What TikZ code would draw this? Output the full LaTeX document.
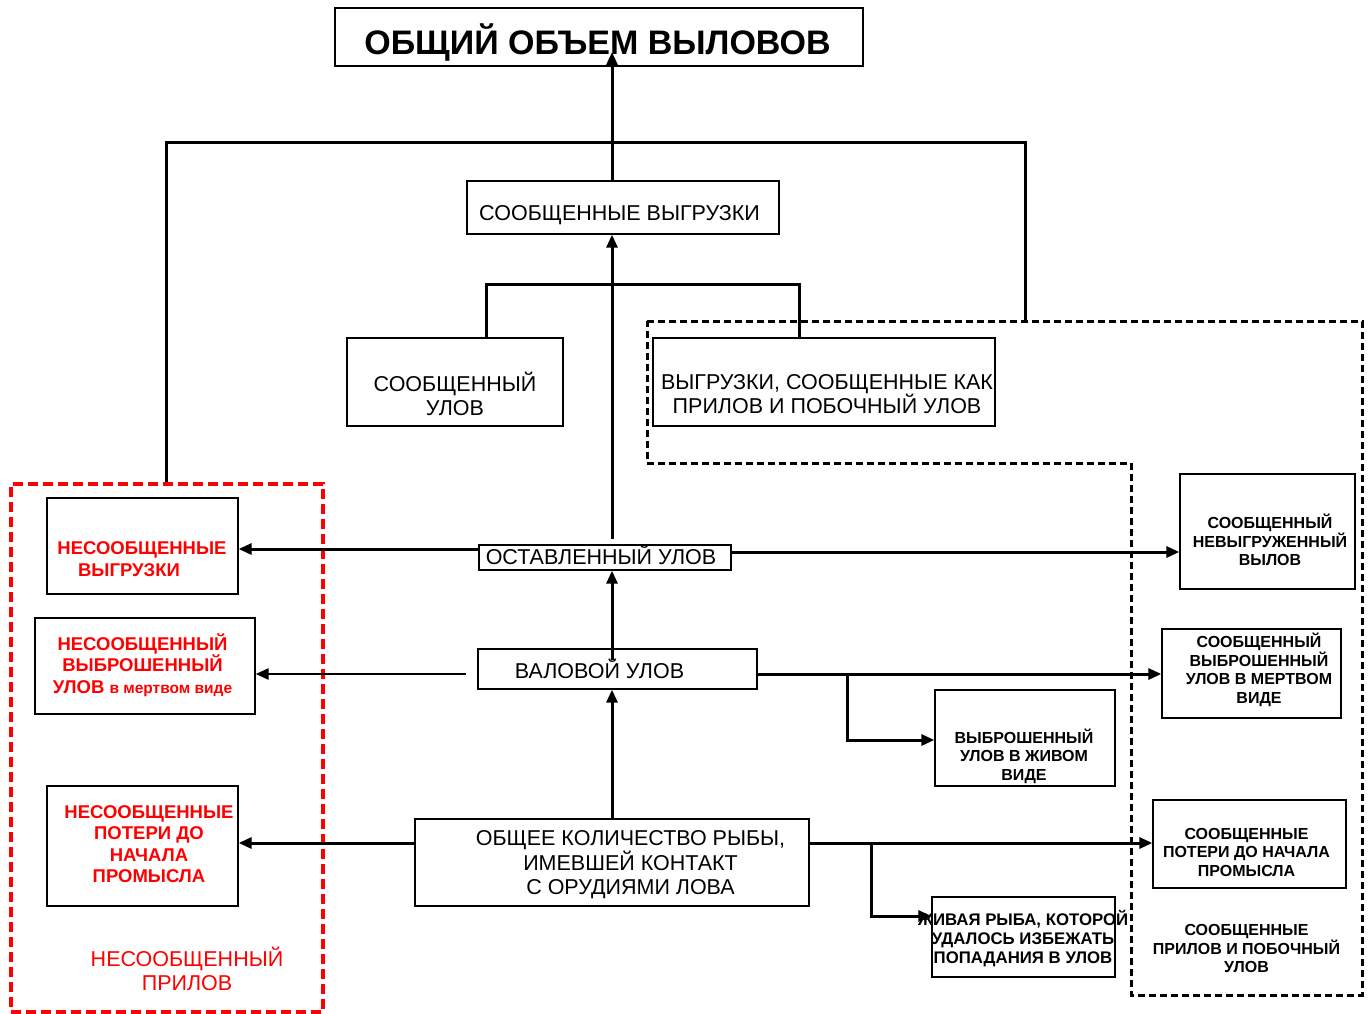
\documentclass[tikz,border=0pt]{standalone}
\usepackage{fontspec}
\setmainfont{Liberation Sans}
\usetikzlibrary{arrows.meta,calc}
\begin{document}
\begin{tikzpicture}[x=1pt,y=-1pt,
 box/.style={draw, line width=1.3pt, inner sep=0pt},
 conn/.style={line width=3pt},
 arr/.style={conn, -{Triangle[length=13pt,width=11pt]}},
 lbl/.style={inner sep=0pt, align=center},
 txt/.style={lbl, font=\fontsize{21.5}{24.5}\selectfont},
 btxt/.style={lbl, font=\bfseries\fontsize{16}{18.5}\selectfont},
 rtxt/.style={lbl, text=red, font=\bfseries\fontsize{18.5}{21.5}\selectfont},
 redzone/.style={draw=red, line width=3.5pt, dash pattern=on 10pt off 5pt},
 blackzone/.style={draw=black, line width=3pt, dash pattern=on 7pt off 4pt},
]
\useasboundingbox (0,0) rectangle (1371,1013);
\fill[white] (0,0) rectangle (1371,1013);

% zones
\node[redzone, minimum width=312pt, minimum height=528pt, inner sep=0pt] (redbox) at (167,748) {};
\coordinate (z1) at (647,321);
\coordinate (z2) at (1362,321);
\coordinate (z3) at (1362,995);
\coordinate (z4) at (1131,995);
\coordinate (z5) at (1131,463);
\coordinate (z6) at (647,463);
\draw[blackzone] (z1) -- (z2) -- (z3) -- (z4) -- (z5) -- (z6) -- cycle;

% boxes
\node[box, minimum width=528pt, minimum height=58pt] (title) at (599,37) {};
\node[box, minimum width=312pt, minimum height=53pt] (sv) at (623,207.5) {};
\node[box, minimum width=216pt, minimum height=88pt] (su) at (455,382) {};
\node[box, minimum width=342pt, minimum height=88pt] (vsk) at (824,382) {};
\node[box, minimum width=191pt, minimum height=96pt] (nv) at (142.5,546) {};
\node[box, minimum width=220pt, minimum height=96pt] (nvu) at (145,666) {};
\node[box, minimum width=191pt, minimum height=120pt] (np) at (142.5,846) {};
\node[box, minimum width=252pt, minimum height=25pt] (ost) at (605,557.5) {};
\node[box, minimum width=279pt, minimum height=40pt] (val) at (617.5,669) {};
\node[box, minimum width=394pt, minimum height=87pt] (ok) at (612,862.5) {};
\node[box, minimum width=175pt, minimum height=115pt] (snv) at (1267.5,531.5) {};
\node[box, minimum width=179pt, minimum height=89pt] (svm) at (1251.5,673.5) {};
\node[box, minimum width=180pt, minimum height=96pt] (vzh) at (1025,738) {};
\node[box, minimum width=193pt, minimum height=88pt] (sp) at (1249.5,844) {};
\node[box, minimum width=183pt, minimum height=80pt] (zhr) at (1023.5,937) {};

% texts
\node[lbl, font=\bfseries\fontsize{34}{38}\selectfont] (titleT) at (597.5,42) {ОБЩИЙ ОБЪЕМ ВЫЛОВОВ};
\node[txt] (svT) at (619.5,215) {СООБЩЕННЫЕ ВЫГРУЗКИ};
\node[txt] (suT) at (455,394) {СООБЩЕННЫЙ\\УЛОВ};
\node[txt] (vskT) at (827,394) {ВЫГРУЗКИ, СООБЩЕННЫЕ КАК\\ПРИЛОВ И ПОБОЧНЫЙ УЛОВ};
\node[rtxt] (nvT) at (142,559) {НЕСООБЩЕННЫЕ\\\hspace*{-26pt}ВЫГРУЗКИ};
\node[rtxt] (nvuT) at (142.5,665) {НЕСООБЩЕННЫЙ\\ВЫБРОШЕННЫЙ\\УЛОВ {\fontsize{15.5}{18}\selectfont в мертвом виде}};
\node[rtxt] (npT) at (149,844) {НЕСООБЩЕННЫЕ\\ПОТЕРИ ДО\\НАЧАЛА\\ПРОМЫСЛА};
\node[lbl, text=red, font=\fontsize{21.5}{24}\selectfont] (nprilov) at (187,969) {НЕСООБЩЕННЫЙ\\ПРИЛОВ};
\node[txt] (ostT) at (601,555) {ОСТАВЛЕННЫЙ УЛОВ};
\node[txt] (valT) at (599.5,669) {ВАЛОВОЙ УЛОВ};
\node[txt] (okT) at (630.5,865) {ОБЩЕЕ КОЛИЧЕСТВО РЫБЫ,\\ИМЕВШЕЙ КОНТАКТ\\С ОРУДИЯМИ ЛОВА};
\node[btxt] (snvT) at (1270,540) {СООБЩЕННЫЙ\\НЕВЫГРУЖЕННЫЙ\\ВЫЛОВ};
\node[btxt] (svmT) at (1259,670) {СООБЩЕННЫЙ\\ВЫБРОШЕННЫЙ\\УЛОВ В МЕРТВОМ\\ВИДЕ};
\node[btxt] (vzhT) at (1024,756) {ВЫБРОШЕННЫЙ\\УЛОВ В ЖИВОМ\\ВИДЕ};
\node[btxt] (spT) at (1246.5,852) {СООБЩЕННЫЕ\\ПОТЕРИ ДО НАЧАЛА\\ПРОМЫСЛА};
\node[lbl, font=\bfseries\fontsize{16.8}{19}\selectfont] (zhrT) at (1023,939) {ЖИВАЯ РЫБА, КОТОРОЙ\\УДАЛОСЬ ИЗБЕЖАТЬ\\ПОПАДАНИЯ В УЛОВ};
\node[btxt] (spp) at (1246.5,948.5) {СООБЩЕННЫЕ\\ПРИЛОВ И ПОБОЧНЫЙ\\УЛОВ};

% helper coordinates
\coordinate (spine) at (612,0);
\coordinate (jl) at (166,142);
\coordinate (jr) at (1025,142);
\coordinate (bl) at (486,284);
\coordinate (br) at (799,284);
\coordinate (ttip) at (612,52);
\coordinate (yl) at (0,549);
\coordinate (yo) at (0,552);
\coordinate (yv) at (0,674);
\coordinate (yk) at (0,843);
\coordinate (b1) at (847,674);
\coordinate (b2) at (871,843);
\coordinate (y1) at (0,740);
\coordinate (y2) at (0,916);

% connectors
\draw[arr] (sv.north -| spine) -- (ttip);
\draw[conn] (jl |- redbox.north) -- (jl) -- (jr) -- (jr |- z1);
\draw[conn] (su.north -| bl) -- (bl) -- (br) -- (vsk.north -| br);
\draw[arr] ($(ost.north -| spine)+(0,-5)$) -- (sv.south -| spine);
\draw[arr] ($(val.center -| spine)+(0,-9)$) -- (ost.south -| spine);
\draw[arr] (ok.north -| spine) -- (val.south -| spine);

\draw[arr] (ost.west |- yl) -- (nv.east |- yl);
\draw[arr] (ost.east |- yo) -- (snv.west |- yo);
\draw[arr, line width=2.5pt] ($(val.west |- yv)+(-11,0)$) -- (nvu.east |- yv);
\draw[arr] (val.east |- yv) -- (svm.west |- yv);
\draw[arr] (b1) -- (b1 |- y1) -- (vzh.west |- y1);
\draw[arr] (ok.west |- yk) -- (np.east |- yk);
\draw[arr] (ok.east |- yk) -- (sp.west |- yk);
\draw[arr] (b2) -- (b2 |- y2) -- (zhr.west |- y2);
\end{tikzpicture}
\end{document}
